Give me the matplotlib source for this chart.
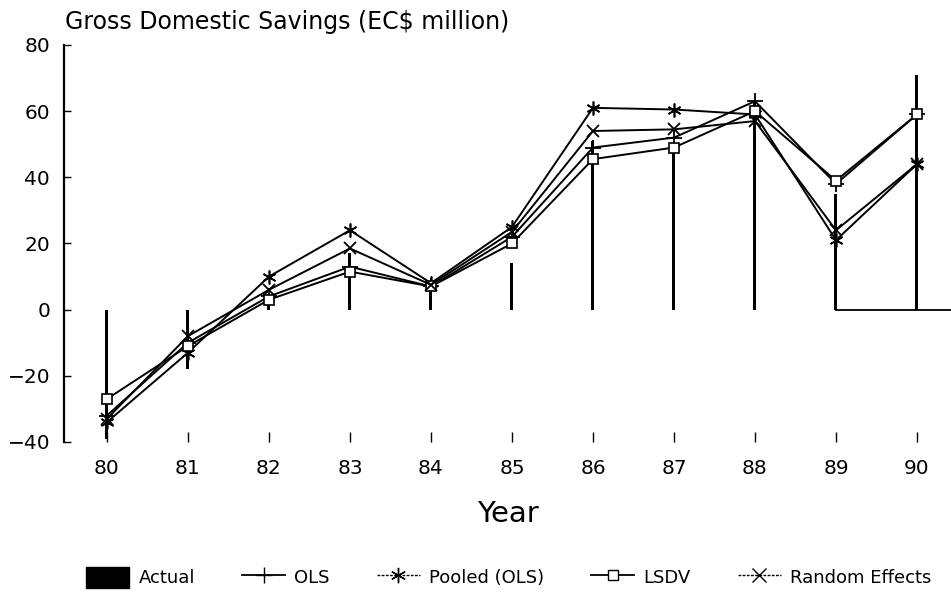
import matplotlib
matplotlib.use("Agg")
from matplotlib import pyplot as plt
from matplotlib.patches import Patch
from matplotlib.lines import Line2D

years = [80, 81, 82, 83, 84, 85, 86, 87, 88, 89, 90]
actual = [-39, -18, 2, 17, 8, 14, 51, 48, 63, 35, 71]
ols = [-32, -10, 4, 13, 7, 22, 49, 52, 63, 38, 59]
pooled = [-34, -13, 10, 24, 8, 25, 61, 60.5, 59, 21, 44]
lsdv = [-27, -11, 3, 11.5, 7, 20, 45.5, 49, 60, 39, 59]
random_eff = [-33, -8, 6, 18.5, 7.5, 23.5, 54, 54.5, 57, 24, 44]

fig = plt.figure(figsize=(9.51, 5.92), dpi=100)
ax = fig.add_axes([0.0673, 0.2534, 0.9327, 0.6706])

ax.bar(years, actual, width=0.037, color="black")
# baseline drawn from the 89 bar to the right edge
ax.plot([years[-2], 90.42], [0, 0], color="black", lw=1.3)

ax.plot(years, ols, color="black", lw=1.4, marker="+", ms=11, mew=1.3)
ax.plot(years, pooled, color="black", lw=1.4, marker=(6, 2, 0), ms=10, mew=1.2)
ax.plot(years, lsdv, color="black", lw=1.4, marker="s", ms=6.5, mfc="white", mew=1.2)
ax.plot(years, random_eff, color="black", lw=1.4, marker="x", ms=8, mew=1.3)

ax.set_xlim(79.47, 90.42)
ax.set_ylim(-40, 80)
ax.set_xticks(years)
ax.set_xticklabels([str(y) for y in years])
ax.set_yticks([-40, -20, 0, 20, 40, 60, 80])

for side in ["top", "right", "bottom"]:
    ax.spines[side].set_visible(False)
ax.spines["left"].set_linewidth(1.6)

ax.tick_params(axis="y", direction="in", length=5, width=1, pad=10, labelsize=14.5)
ax.tick_params(axis="x", direction="in", length=7, width=1, pad=12, labelsize=14.5)
ax.set_xlabel("Year", fontsize=21, labelpad=16)

fig.text(0.068, 0.962, "Gross Domestic Savings (EC$ million)", fontsize=17, va="center", ha="left")

handles = [
    Patch(facecolor="black", edgecolor="black"),
    Line2D([], [], color="black", lw=1.3, marker="+", ms=12),
    Line2D([], [], color="black", lw=1.0, ls=(0, (2, 1)), marker=(6, 2, 0), ms=11),
    Line2D([], [], color="black", lw=1.3, marker="s", ms=7, mfc="white"),
    Line2D([], [], color="black", lw=1.0, ls=(0, (2, 1)), marker="x", ms=10),
]
labels = ["Actual", "OLS", "Pooled (OLS)", "LSDV", "Random Effects"]
fig.legend(handles, labels, loc="center", bbox_to_anchor=(0.535, 0.025), ncol=5,
           frameon=False, fontsize=13, handlelength=2.4, handleheight=1.4,
           columnspacing=2.6, handletextpad=0.5)

fig.savefig("out.png", dpi=100)
